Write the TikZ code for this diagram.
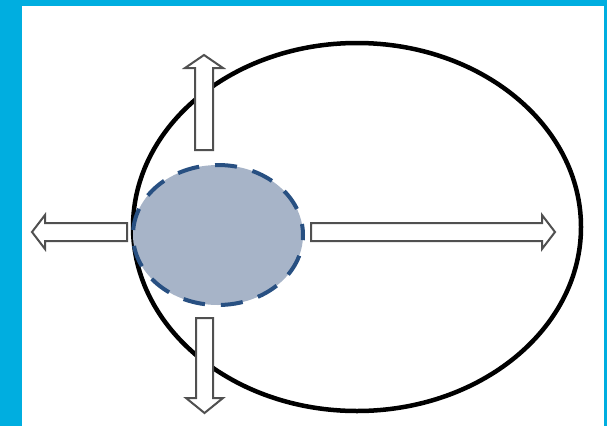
\documentclass[tikz,border=0pt]{standalone}
\usepackage{xcolor}
\usepackage{tikz}
\usetikzlibrary{shapes.geometric, positioning, calc}
\definecolor{framecyan}{RGB}{0,174,224}
\definecolor{spotfill}{RGB}{167,180,200}
\definecolor{spotline}{RGB}{40,80,130}
\definecolor{arrgray}{RGB}{80,80,80}
\tikzset{
  region/.style={ellipse, draw=black, line width=4.5pt, inner sep=0pt,
    minimum width=448pt, minimum height=368pt},
  spot/.style={ellipse, draw=spotline, fill=spotfill, line width=4pt,
    dash pattern=on 22pt off 16pt, dash phase=11pt, inner sep=0pt,
    minimum width=170pt, minimum height=140pt},
  blockarrow/.style={draw=arrgray, fill=white, line width=2pt, line join=miter}
}

\begin{document}
\begin{tikzpicture}[x=1pt, y=-1pt]
% Frame
\fill[framecyan] (0,0) rectangle (607,426);
\fill[white] (22,6) rectangle (604,426);
\useasboundingbox (0,0) rectangle (607,426);

% Outer region and inner spot
\node[region] (R) at (357,227) {};
\node[spot] (S) at (218,235) {};

% Arrows
\draw[blockarrow] (195,150) -- (195,68) -- (185,68) -- (204,55) -- (223,68) -- (213,68) -- (213,150) -- cycle;
\draw[blockarrow] (196,318) -- (196,398) -- (186,398) -- (204.5,413) -- (223,398) -- (213,398) -- (213,318) -- cycle;
\draw[blockarrow] (127,223) -- (45,223) -- (45,215) -- (32,232) -- (45,249) -- (45,241) -- (127,241) -- cycle;
\draw[blockarrow] (311,223) -- (542,223) -- (542,215) -- (555,232) -- (542,249) -- (542,241) -- (311,241) -- cycle;
\end{tikzpicture}
\end{document}
